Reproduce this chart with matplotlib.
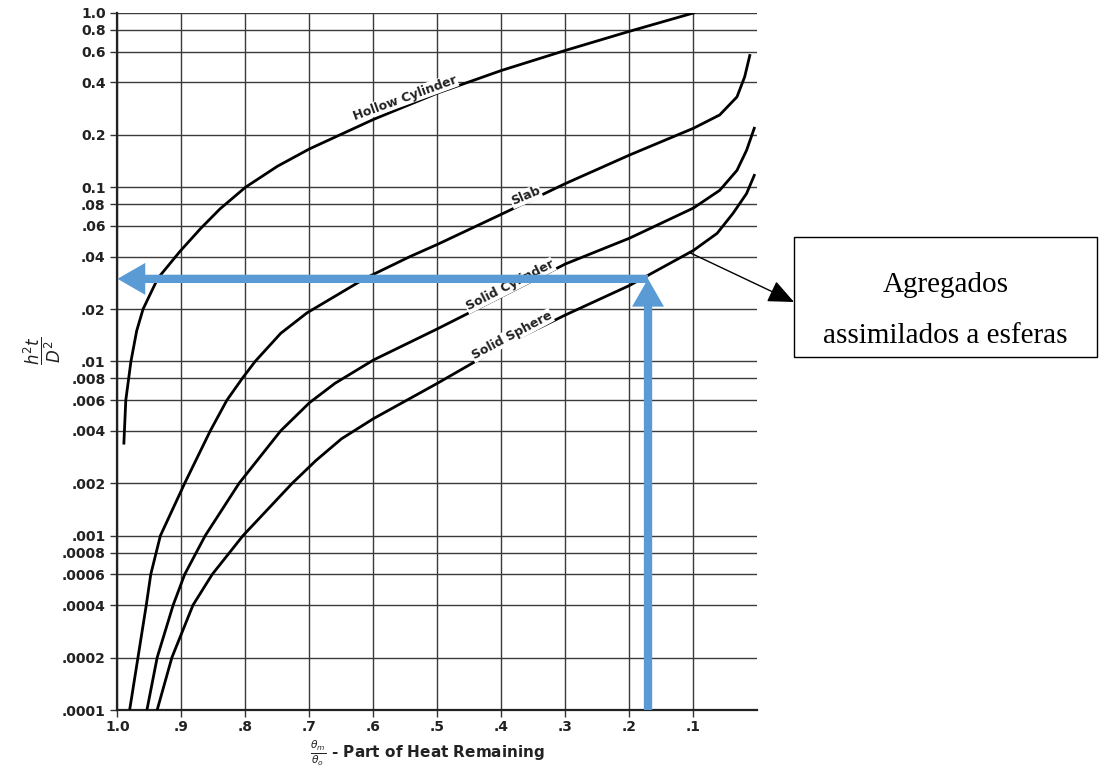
import matplotlib
matplotlib.use("Agg")
import matplotlib.pyplot as plt
from matplotlib.patches import Rectangle
from matplotlib.ticker import NullLocator

# theta_m/theta_o (part of heat remaining) vs h^2 t / D^2
hollow_x = [0.99, 0.987, 0.979, 0.97, 0.96, 0.937, 0.902, 0.87, 0.84, 0.8, 0.75, 0.7, 0.6,
            0.5, 0.4, 0.3, 0.2, 0.1]
hollow_y = [0.0034, 0.006, 0.01, 0.015, 0.02, 0.03, 0.043, 0.058, 0.075, 0.1, 0.132, 0.166, 0.245,
            0.347, 0.468, 0.61, 0.785, 1.0]

slab_x = [0.981, 0.968, 0.955, 0.948, 0.933, 0.895, 0.855, 0.829, 0.805, 0.785, 0.745, 0.704,
          0.613, 0.543, 0.5, 0.4, 0.3, 0.2, 0.1, 0.059, 0.032, 0.02, 0.012]
slab_y = [1e-4, 2e-4, 4e-4, 6e-4, 1e-3, 2e-3, 4e-3, 6e-3, 8e-3, 0.01, 0.0145, 0.019,
          0.03, 0.04, 0.047, 0.07, 0.105, 0.153, 0.218, 0.26, 0.33, 0.43, 0.57]

cyl_x = [0.954, 0.938, 0.913, 0.895, 0.863, 0.81, 0.745, 0.70, 0.66, 0.6, 0.5,
         0.4, 0.3, 0.2, 0.1, 0.059, 0.032, 0.017, 0.005]
cyl_y = [1e-4, 2e-4, 4e-4, 6e-4, 1e-3, 2e-3, 4e-3, 5.8e-3, 7.5e-3, 0.0102, 0.0154,
         0.0236, 0.0363, 0.051, 0.076, 0.096, 0.125, 0.163, 0.218]

sph_x = [0.938, 0.915, 0.882, 0.852, 0.804, 0.727, 0.69, 0.65, 0.6, 0.5, 0.4, 0.3, 0.2,
         0.1, 0.063, 0.038, 0.017, 0.005]
sph_y = [1e-4, 2e-4, 4e-4, 6e-4, 1e-3, 2e-3, 0.0027, 0.0036, 0.0047, 0.0075, 0.0122, 0.0185, 0.0273,
         0.0434, 0.0544, 0.071, 0.092, 0.117]

y_ticks = [1.0, 0.8, 0.6, 0.4, 0.2, 0.1, 0.08, 0.06, 0.04, 0.02, 0.01, 0.008, 0.006, 0.004,
           0.002, 0.001, 0.0008, 0.0006, 0.0004, 0.0002, 0.0001]
y_labels = ["1.0", "0.8", "0.6", "0.4", "0.2", "0.1", ".08", ".06", ".04", ".02", ".01", ".008",
            ".006", ".004", ".002", ".001", ".0008", ".0006", ".0004", ".0002", ".0001"]
x_ticks = [1.0, 0.9, 0.8, 0.7, 0.6, 0.5, 0.4, 0.3, 0.2, 0.1]
x_labels = ["1.0", ".9", ".8", ".7", ".6", ".5", ".4", ".3", ".2", ".1"]

# reading taken off the sphere curve
read_x = 0.171
read_y = 0.0298
pointer_x, pointer_y = 0.105, 0.042

plt.rcParams["mathtext.fontset"] = "dejavusans"

fig = plt.figure(figsize=(11, 7.73), dpi=100)
ax = fig.add_axes([0.1068, 0.0815, 0.5818, 0.9017])

ax.set_yscale("log")
ax.set_xlim(1.0, 0.0)
ax.set_ylim(1e-4, 1.0)

for xs, ys in [(hollow_x, hollow_y), (slab_x, slab_y), (cyl_x, cyl_y), (sph_x, sph_y)]:
    ax.plot(xs, ys, color="black", lw=2.0, solid_joinstyle="round", zorder=3)

ax.yaxis.set_minor_locator(NullLocator())
ax.set_yticks(y_ticks, y_labels)
ax.set_xticks(x_ticks, x_labels)
ax.grid(True, color="#3a3a3a", lw=1.0)
ax.tick_params(axis="both", direction="out", length=5, width=1.0, color="#333",
               labelsize=10, labelcolor="#222")
ax.tick_params(axis="x", pad=2)
for lab in ax.get_xticklabels() + ax.get_yticklabels():
    lab.set_fontweight("bold")

for side in ["top", "right"]:
    ax.spines[side].set_visible(False)
for side in ["left", "bottom"]:
    ax.spines[side].set_linewidth(1.6)
    ax.spines[side].set_color("#222")

xlab = ax.set_xlabel(r"$\frac{\theta_m}{\theta_o}$ - Part of Heat Remaining", fontsize=11,
                     fontweight="bold", color="#222")
xlab.set_va("center")
ax.xaxis.set_label_coords(0.485, -0.062)
ylab = ax.set_ylabel(r"$\dfrac{h^2t}{D^2}$", fontsize=12, rotation=90, color="#222")
ylab.set_va("center")
ax.yaxis.set_label_coords(-0.118, 0.515)

curve_labels = [
    ("Hollow Cylinder", 0.551, 0.325, 20),
    ("Slab", 0.362, 0.0887, 23),
    ("Solid Cylinder", 0.387, 0.0273, 27),
    ("Solid Sphere", 0.384, 0.0141, 28),
]
for txt, lx, ly, rot in curve_labels:
    ax.text(lx, ly, txt, rotation=rot, rotation_mode="anchor", ha="center", va="center",
            fontsize=9, fontweight="bold", color="#222", zorder=4,
            bbox=dict(facecolor="white", edgecolor="none", pad=0.5))

# blue reading arrows
blue = "#5b9bd5"
arrow = "simple,head_length=1.0,head_width=1.15,tail_width=0.3"
ax.annotate("", xy=(1.0, read_y), xytext=(read_x, read_y),
            arrowprops=dict(arrowstyle=arrow, mutation_scale=20, color=blue, lw=0,
                            shrinkA=0, shrinkB=0), zorder=5, annotation_clip=False)
ax.annotate("", xy=(read_x, read_y), xytext=(read_x, 1e-4),
            arrowprops=dict(arrowstyle=arrow, mutation_scale=20, color=blue, lw=0,
                            shrinkA=0, shrinkB=0), zorder=5, annotation_clip=False)

# callout box
fig.patches.append(Rectangle((0.7218, 0.5382), 0.2755, 0.1552, transform=fig.transFigure,
                             facecolor="white", edgecolor="black", lw=1.0))
fig.text(0.8595, 0.6223, "Agregados", ha="center", va="baseline",
         family="Liberation Serif", fontsize=21)
fig.text(0.8595, 0.5563, "assimilados a esferas", ha="center", va="baseline",
         family="Liberation Serif", fontsize=21)
ax.annotate("", xy=(794, 471), xycoords="figure pixels",
            xytext=(pointer_x, pointer_y), textcoords="data",
            arrowprops=dict(arrowstyle="-|>,head_length=0.8,head_width=0.35", mutation_scale=20,
                            color="black", lw=1.0, shrinkA=0, shrinkB=0),
            annotation_clip=False)

fig.savefig("out.png", dpi=100)
